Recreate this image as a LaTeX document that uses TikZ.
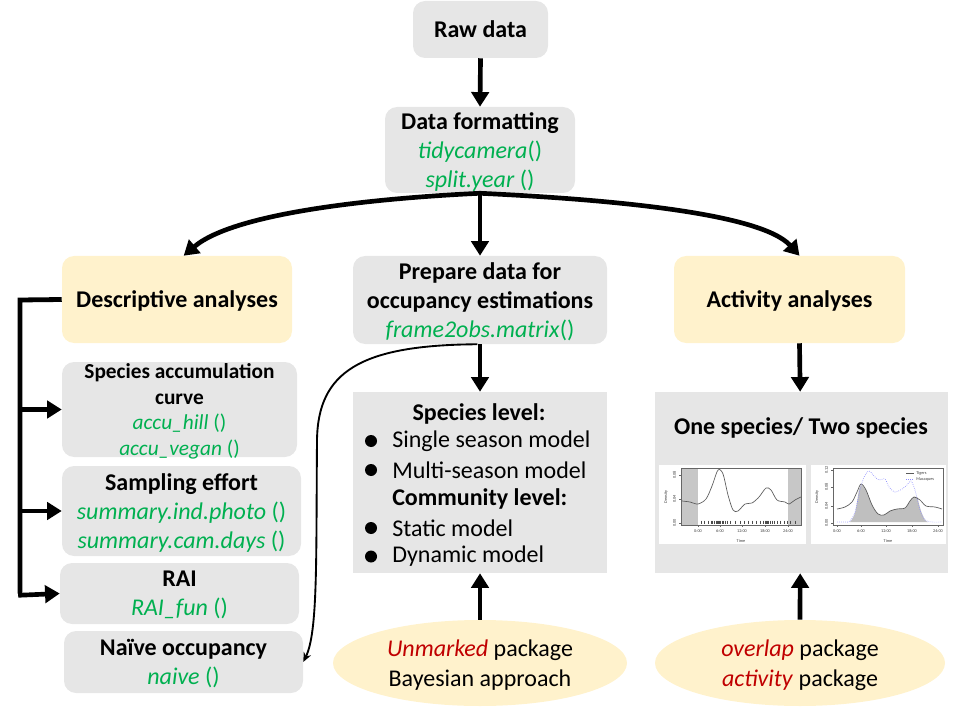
\documentclass[tikz,border=0pt]{standalone}
\usepackage{fontspec}
\setmainfont{Carlito}
\usetikzlibrary{arrows.meta,shapes.geometric}
\definecolor{boxgray}{HTML}{E6E6E6}
\definecolor{boxyellow}{HTML}{FFF2CC}
\definecolor{fngreen}{HTML}{00B050}
\definecolor{pkgred}{HTML}{C00000}
\definecolor{plotgray}{HTML}{5A5A5A}
\definecolor{macblue}{HTML}{8C8CFF}
\newcommand\fn[1]{\textcolor{fngreen}{\textit{#1}}}
\newcommand\gp[1]{\textcolor{fngreen}{#1}}
\newcommand\pk[1]{\textcolor{pkgred}{\textit{#1}}}
\tikzset{
  gbox/.style={fill=boxgray, rounded corners=9pt, inner sep=0pt, align=center, text depth=0pt},
  ybox/.style={gbox, fill=boxyellow},
  sqbox/.style={fill=boxgray, inner sep=0pt},
  sz/.style 2 args={minimum width=#1*0.75pt, minimum height=#2*0.75pt},
  big/.style={font=\fontsize{18}{22}\selectfont},
  midf/.style={font=\fontsize{16}{19.2}\selectfont},
  txt/.style={inner sep=0pt, font=\fontsize{18}{21.75}\selectfont},
  pkgell/.style={ellipse, fill=boxyellow, inner sep=0pt, align=center, text depth=0pt},
  thickarrow/.style={line width=3.5pt, -{Triangle[width=13pt,length=11pt]}},
  bracket/.style={line width=3.6pt},
  thinarrow/.style={line width=1.4pt, -{Stealth[length=7pt,width=6pt]}},
  tinyt/.style={inner sep=0pt, font=\fontsize{3.2}{3.6}\selectfont, text=black!75},
  pframe/.style={draw=black!60, line width=0.3pt},
}
\begin{document}
\begin{tikzpicture}[x=0.75pt,y=-0.75pt]
\useasboundingbox (0,0) rectangle (960,720);

% main boxes
\node[gbox,sz={135}{57},big] (raw) at (480.5,29.5) {\textbf{Raw data}};
\node[gbox,sz={190}{86},big] (fmt) at (480,150) {\textbf{Data formatting}\\\fn{tidycamera}\gp{()}\\\fn{split.year} \gp{()}};
\node[ybox,sz={230}{87},big] (desc) at (177,299.5) {\textbf{Descriptive analyses}};
\node[gbox,sz={254}{88},big] (prep) at (480,300) {\textbf{Prepare data for}\\\textbf{occupancy estimations}\\\fn{frame2obs.matrix}\gp{()}};
\node[ybox,sz={231}{87},big] (act) at (789.5,299.5) {\textbf{Activity analyses}};

% descriptive sub-boxes
\node[gbox,sz={235}{95},midf] (accum) at (179.5,409.5) {\textbf{Species accumulation}\\\textbf{curve}\\\fn{accu\_hill} \gp{()}\\\fn{accu\_vegan} \gp{()}};
\node[gbox,sz={239}{90},big] (samp) at (181.5,511) {\textbf{Sampling effort}\\\fn{summary.ind.photo} \gp{()}\\\fn{summary.cam.days} \gp{()}};
\node[gbox,sz={239}{61},big] (rai) at (179.5,593.5) {\textbf{RAI}\\\fn{RAI\_fun} \gp{()}};
\node[gbox,sz={239}{62},big] (naive) at (183.5,662) {\textbf{Naïve occupancy}\\\fn{naive} \gp{()}};

% occupancy model box
\node[sqbox,sz={254}{181}] (spec) at (480,482.5) {};
\node[txt] (sl) at (479,414) {\textbf{Species level:}};
\node[txt,anchor=west] (m1) at (392,441.5) {Single season model};
\node[txt,anchor=west] (m2) at (392,470) {Multi-season model};
\node[txt,anchor=west] (cl) at (392,499) {\textbf{Community level:}};
\node[txt,anchor=west] (m3) at (392,528) {Static model};
\node[txt,anchor=west] (m4) at (392,556.5) {Dynamic model};
\foreach \yy in {441,470,528,556.5} \fill (371,\yy) circle (6);

% activity box
\node[sqbox,sz={293}{181}] (one) at (801.5,482.5) {};
\node[txt] (onet) at (801,427.5) {\textbf{One species/ Two species}};

% ---- left density plot ----
\fill[white] (659,465) rectangle (806,544);
\fill[black!22] (681,468) rectangle (698,525);
\fill[black!22] (788,468) rectangle (801,525);
\draw[pframe] (681,468) rectangle (801,525);
\draw[plotgray, line width=0.5pt] plot[smooth] coordinates {(682,501) (690,502) (698,504) (706,499) (712,486) (718,470) (723,474) (728,495) (733,510) (738,511) (745,504) (752,503) (759,497) (766,488) (771,490) (777,500) (785,502) (789,504) (795,500) (801,497)};
\foreach \xx in {701,704,708,711,712,714,716,717,718,719,720,722,723,725,727,730,735,740,744,748,752,756,760,763,765,766,767,768,770,772,774,777,780,784,787,790,795}
  \draw[black!70, line width=0.25pt] (\xx,520.5) -- (\xx,523.5);
\foreach \xx/\lab in {698/0:00,720/6:00,742/12:00,765/18:00,788/24:00} {
  \draw[black!60, line width=0.25pt] (\xx,525) -- (\xx,527);
  \node[tinyt] at (\xx,531) {\lab};
}
\foreach \yy/\lab in {523/0.00,499/0.04,475/0.08} {
  \draw[black!60, line width=0.25pt] (681,\yy) -- (679,\yy);
  \node[tinyt,rotate=90] at (674.5,\yy) {\lab};
}
\node[tinyt] at (741,541) {Time};
\node[tinyt,rotate=90] at (666,497) {Density};

% ---- right density plot ----
\fill[white] (811,465) rectangle (946,544);
\fill[black!25] plot[smooth] coordinates {(850,522) (855,513) (859,489)} -- plot[smooth] coordinates {(861,485) (866,490) (872,505) (878,514) (884,515) (890,511) (897,509) (905,508) (910,501) (914,497) (917,497)} -- plot[smooth] coordinates {(918,500) (921,511) (925,520) (928,522)} -- cycle;
\draw[pframe] (833,468) rectangle (943,525);
\draw[plotgray, line width=0.5pt] plot[smooth] coordinates {(837,509) (845,507) (852,502) (857,492) (861,484) (866,490) (872,505) (878,514) (884,515) (890,511) (897,509) (905,508) (910,501) (914,497) (920,500) (926,506) (935,507) (942,509)};
\draw[macblue, line width=0.5pt, densely dotted] plot[smooth] coordinates {(837,522) (845,522) (850,521) (855,512) (860,490) (864,477) (869,471) (874,476) (879,480) (885,479) (889,487) (895,492) (902,489) (907,485) (911,481) (915,490) (920,510) (925,520) (932,522) (942,522)};
\draw[plotgray, line width=0.5pt] (906,473) -- (914,473);
\draw[macblue, line width=0.5pt, densely dotted] (906,479) -- (914,479);
\node[tinyt,anchor=west] at (916,473) {Tigers};
\node[tinyt,anchor=west] at (916,479) {Macaques};
\foreach \xx/\lab in {837/0:00,861/6:00,886/12:00,912/18:00,938/24:00} {
  \draw[black!60, line width=0.25pt] (\xx,525) -- (\xx,527);
  \node[tinyt] at (\xx,531) {\lab};
}
\foreach \yy/\lab in {523/0.00,506/0.04,487/0.08,470/0.12} {
  \draw[black!60, line width=0.25pt] (833,\yy) -- (831,\yy);
  \node[tinyt,rotate=90] at (826.5,\yy) {\lab};
}
\node[tinyt] at (888,541) {Time};
\node[tinyt,rotate=90] at (817,497) {Density};

% ellipses
\node[pkgell, sz={294}{86}, big] (ell1) at (480,663) {\pk{Unmarked} package\\Bayesian approach};
\node[pkgell, sz={290}{86}, big] (ell2) at (800,663) {\pk{overlap} package\\\pk{activity} package};

% arrows
\draw[thickarrow] (raw.south) -- (fmt.north);
\draw[thickarrow] (fmt.south) -- (prep.north);
\draw[thickarrow] (fmt.south) .. controls (380,198) and (235,212) .. ([xshift=5pt]desc.north);
\draw[thickarrow] (fmt.south) .. controls (600,199) and (760,212) .. ([xshift=7.5pt]act.north);
\draw[thickarrow] (prep.south) -- (spec.north);
\draw[thickarrow] ([xshift=7.5pt]act.south) -- ([xshift=-1pt]one.north);
\draw[thickarrow] (ell1.north) -- (spec.south);
\draw[thickarrow] (ell2.north) -- ([xshift=-1pt]one.south);

% bracket on the left
\coordinate (br) at (20,300);
\draw[bracket] (desc.west) -- (br) -- (br |- rai.west);
\draw[thickarrow] ([xshift=-1.35pt]br |- accum.west) -- (accum.west);
\draw[thickarrow] ([xshift=-1.35pt]br |- samp.west) -- (samp.west);
\draw[thickarrow] ([xshift=-1.35pt,yshift=-1.35pt]br |- rai.west) -- (rai.west);

% thin curved arrow
\draw[thinarrow] ([xshift=-2pt]prep.south) .. controls (360,345) and (318,372) .. (317,440) .. controls (316,560) and (318,632) .. (naive.east);
\end{tikzpicture}
\end{document}
